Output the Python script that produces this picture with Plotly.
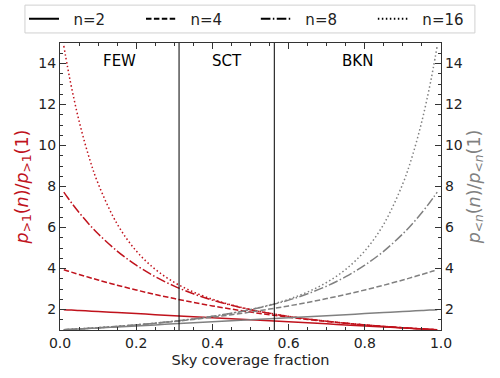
import plotly.graph_objects as go

# sky coverage fraction samples
coverage = [0.01, 0.02, 0.03, 0.05, 0.075, 0.1, 0.15, 0.2, 0.25, 0.3, 0.35, 0.4, 0.45, 0.5,
            0.55, 0.6, 0.65, 0.7, 0.75, 0.8, 0.85, 0.9, 0.925, 0.95, 0.97, 0.98, 0.99]

# p_{>1}(n)/p_{>1}(1)
red_n2 = [1.99, 1.98, 1.97, 1.95, 1.925, 1.9, 1.85, 1.8, 1.75, 1.7, 1.65, 1.6, 1.55, 1.5,
          1.45, 1.4, 1.35, 1.3, 1.25, 1.2, 1.15, 1.1, 1.075, 1.05, 1.03, 1.02, 1.01]
red_n4 = [3.940, 3.882, 3.824, 3.710, 3.572, 3.439, 3.187, 2.952, 2.734, 2.533, 2.347, 2.176, 2.019, 1.875,
          1.744, 1.624, 1.515, 1.417, 1.328, 1.248, 1.176, 1.111, 1.081, 1.053, 1.031, 1.020, 1.010]
red_n8 = [7.726, 7.462, 7.209, 6.732, 6.187, 5.695, 4.850, 4.161, 3.600, 3.141, 2.766, 2.458, 2.204, 1.992,
          1.815, 1.666, 1.538, 1.428, 1.333, 1.250, 1.176, 1.111, 1.081, 1.053, 1.031, 1.020, 1.010]
red_n16 = [14.854, 13.810, 12.858, 11.197, 9.503, 8.147, 6.172, 4.859, 3.960, 3.322, 2.854, 2.499, 2.222, 2.000,
           1.818, 1.667, 1.538, 1.429, 1.333, 1.250, 1.176, 1.111, 1.081, 1.053, 1.031, 1.020, 1.010]

# p_{<n}(n)/p_{<n}(1)
grey_n2 = [1.01, 1.02, 1.03, 1.05, 1.075, 1.1, 1.15, 1.2, 1.25, 1.3, 1.35, 1.4, 1.45, 1.5,
           1.55, 1.6, 1.65, 1.7, 1.75, 1.8, 1.85, 1.9, 1.925, 1.95, 1.97, 1.98, 1.99]
grey_n4 = [1.010, 1.020, 1.031, 1.053, 1.081, 1.111, 1.176, 1.248, 1.328, 1.417, 1.515, 1.624, 1.744, 1.875,
           2.019, 2.176, 2.347, 2.533, 2.734, 2.952, 3.187, 3.439, 3.572, 3.710, 3.824, 3.882, 3.940]
grey_n8 = [1.010, 1.020, 1.031, 1.053, 1.081, 1.111, 1.176, 1.250, 1.333, 1.428, 1.538, 1.666, 1.815, 1.992,
           2.204, 2.458, 2.766, 3.141, 3.600, 4.161, 4.850, 5.695, 6.187, 6.732, 7.209, 7.462, 7.726]
grey_n16 = [1.010, 1.020, 1.031, 1.053, 1.081, 1.111, 1.176, 1.250, 1.333, 1.429, 1.538, 1.667, 1.818, 2.000,
            2.222, 2.499, 2.854, 3.322, 3.960, 4.859, 6.172, 8.147, 9.503, 11.197, 12.858, 13.810, 14.854]

n_labels = ["n=2", "n=4", "n=8", "n=16"]
# matplotlib-like dash patterns: -, --, -., :
dashes = ["solid", "5.5px,2.4px", "9.6px,2.4px,1.5px,2.4px", "1.5px,2.5px"]
# two legends side by side so the row doesn't wrap
legend_ids = ["legend", "legend", "legend2", "legend2"]

# cloud cover category boundaries and labels
boundaries = [0.3125, 0.5625]
categories = ["FEW", "SCT", "BKN"]
category_x = [0.15625, 0.4375, 0.78125]

RED = "#c0121c"
GREY = "#808080"
FONT = "DejaVu Sans"

fig = go.Figure()

for ys, dash in zip([red_n2, red_n4, red_n8, red_n16], dashes):
    fig.add_trace(go.Scatter(x=coverage, y=ys, mode="lines", showlegend=False,
                             line=dict(color=RED, width=1.5, dash=dash, shape="spline")))

for ys, dash in zip([grey_n2, grey_n4, grey_n8, grey_n16], dashes):
    fig.add_trace(go.Scatter(x=coverage, y=ys, mode="lines", showlegend=False, yaxis="y2",
                             line=dict(color=GREY, width=1.5, dash=dash, shape="spline")))

# black legend entries
for label, dash, lg in zip(n_labels, dashes, legend_ids):
    fig.add_trace(go.Scatter(x=[None], y=[None], mode="lines", name="&nbsp;&nbsp;" + label, legend=lg,
                             line=dict(color="black", width=2, dash=dash)))

for b in boundaries:
    fig.add_shape(type="line", xref="x", yref="paper", x0=b, x1=b, y0=0, y1=1,
                  line=dict(color="black", width=1))

# legend frame
fig.add_shape(type="rect", xref="paper", yref="paper", x0=-0.092, x1=1.089, y0=1.035, y1=1.132,
              line=dict(color="#d0d0d0", width=1), fillcolor="white", layer="below")

for label, cx in zip(categories, category_x):
    fig.add_annotation(x=cx, y=14.1, xref="x", yref="y", text=label, showarrow=False,
                       font=dict(size=15, color="black", family=FONT))

axis_common = dict(ticks="inside", ticklen=6, tickwidth=1, tickcolor="#333", automargin=False,
                   showline=True, linecolor="#333", linewidth=1.2, showgrid=False,
                   zeroline=False, tickfont=dict(size=14, color="#222", family=FONT))

legend_common = dict(orientation="h", y=1.0836, yanchor="middle", xanchor="left",
                     bgcolor="rgba(0,0,0,0)", borderwidth=0,
                     entrywidth=72, entrywidthmode="pixels",
                     font=dict(size=15, family=FONT, color="#222"))

fig.update_layout(
    width=500, height=378,
    margin=dict(l=60, r=59, t=43, b=48, autoexpand=False),
    plot_bgcolor="white", paper_bgcolor="white",
    font=dict(family=FONT, size=14, color="#222"),
    xaxis=dict(range=[0, 1], dtick=0.2, tickformat=".1f", mirror="ticks",
               minor=dict(ticks="inside", dtick=0.05, ticklen=3, tickcolor="#333"),
               title=dict(text="Sky coverage fraction", font=dict(size=14.5, family=FONT), standoff=4),
               **axis_common),
    yaxis=dict(range=[1, 15], tick0=0, dtick=2,
               minor=dict(ticks="inside", dtick=0.5, ticklen=3, tickcolor="#333"),
               title=dict(text="<i>p</i><sub>&gt;1</sub>(<i>n</i>)/<i>p</i><sub>&gt;1</sub>(1)",
                          font=dict(size=17.5, color=RED, family=FONT), standoff=5),
               **axis_common),
    yaxis2=dict(range=[1, 15], tick0=0, dtick=2, overlaying="y", side="right",
                minor=dict(ticks="inside", dtick=0.5, ticklen=3, tickcolor="#333"),
                title=dict(text="<i>p</i><sub>&lt;<i>n</i></sub>(<i>n</i>)/<i>p</i><sub>&lt;<i>n</i></sub>(1)",
                           font=dict(size=17.5, color=GREY, family=FONT), standoff=5),
                **axis_common),
    legend=dict(x=-0.0945, **legend_common),
    legend2=dict(x=0.514, **legend_common),
)

fig.write_html("out.html", config={"displayModeBar": False},
               post_script="document.body.style.margin='0';")
